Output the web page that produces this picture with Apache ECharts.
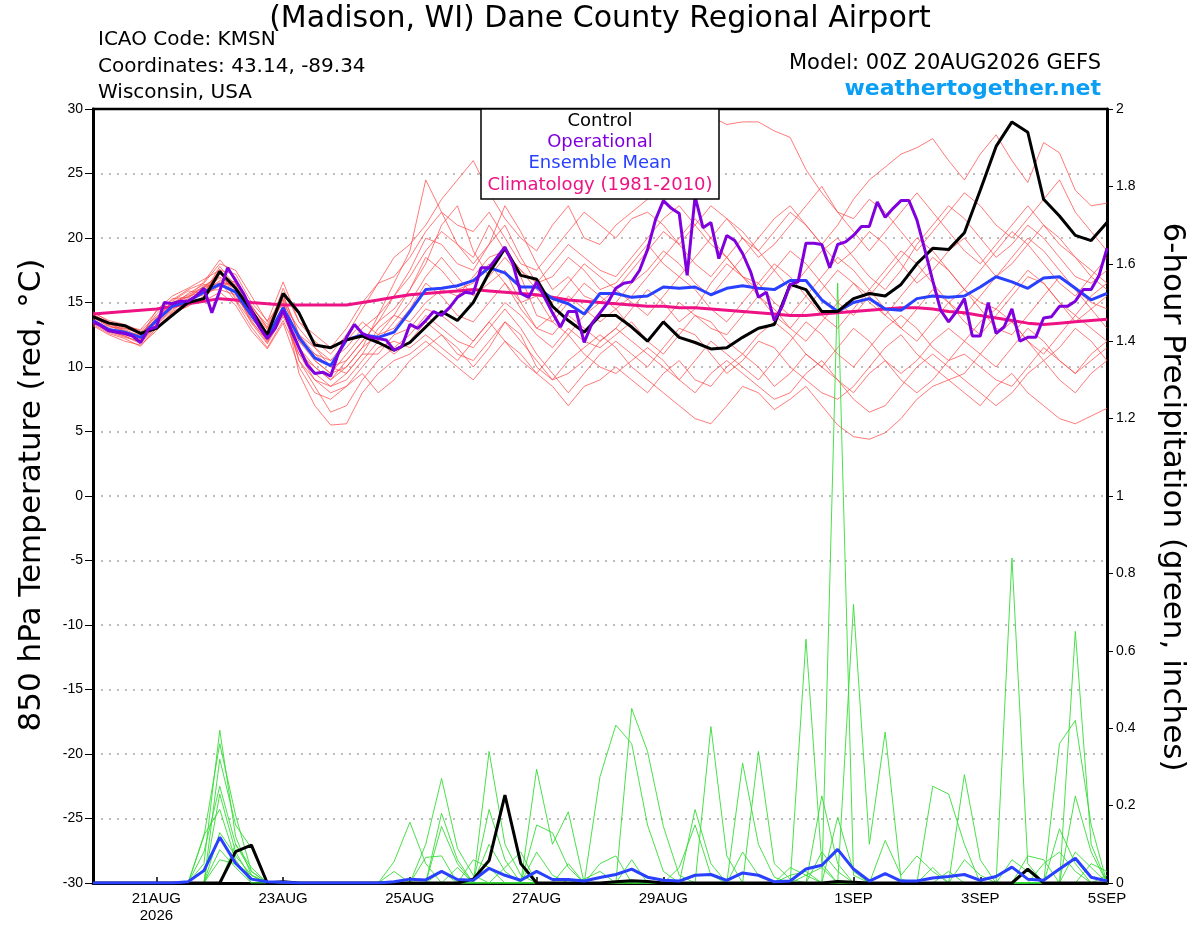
<!DOCTYPE html>
<html><head><meta charset="utf-8">
<script src="https://cdn.jsdelivr.net/npm/echarts@6/dist/echarts.min.js"></script>
<style>html,body{margin:0;padding:0;background:#fff}#c{width:1200px;height:927px}</style>
</head><body><div id="c"></div><script>
// ---------- axis ticks (hours since 00Z 20AUG2026) ----------
const tickHours = [24, 72, 120, 168, 216, 288, 336, 384];
const tickLabels = ['21AUG\n2026', '23AUG', '25AUG', '27AUG', '29AUG', '1SEP', '3SEP', '5SEP'];

// ---------- 850 hPa temperature, 6-hourly from 00Z 20AUG ----------
const controlTemp = [13.9,13.4,13.2,12.6,13.0,14.0,15.0,15.3,17.4,16.1,
  14.4,12.5,15.7,14.2,11.7,11.5,12.1,12.4,11.9,11.3,
  11.9,13.1,14.3,13.6,15.0,17.3,19.2,17.1,16.8,14.7,
  13.6,12.7,14.0,14.0,13.1,12.0,13.5,12.3,11.9,11.4,
  11.5,12.3,13.0,13.3,16.4,16.0,14.3,14.3,15.3,15.7,
  15.5,16.4,18.0,19.2,19.1,20.4,23.7,27.1,29.0,28.2,
  23.0,21.7,20.2,19.8,21.2];
const meanTemp = [13.6,12.9,12.7,12.3,13.6,14.7,15.1,15.8,16.4,15.8,
  14.0,12.3,14.6,12.3,10.7,10.1,12.1,12.5,12.3,12.7,
  14.3,16.0,16.1,16.3,16.7,17.7,17.3,16.2,16.2,15.3,
  14.9,14.1,15.7,15.7,15.4,15.5,16.2,16.1,16.2,15.6,
  16.1,16.3,16.1,16.0,16.7,16.7,15.2,14.3,15.0,15.3,
  14.5,14.4,15.3,15.5,15.4,15.5,16.2,17.0,16.6,16.1,
  16.9,17.0,16.1,15.2,15.7];
const climTemp = [14.1,14.2,14.3,14.4,14.5,14.7,14.9,15.1,15.3,15.2,
  15.0,14.9,14.8,14.8,14.8,14.8,14.8,15.0,15.2,15.4,
  15.6,15.7,15.8,15.9,16.0,15.9,15.8,15.7,15.6,15.4,
  15.2,15.1,15.0,14.9,14.8,14.7,14.7,14.6,14.6,14.5,
  14.4,14.3,14.2,14.1,14.0,14.0,14.1,14.2,14.3,14.4,
  14.5,14.6,14.6,14.5,14.3,14.2,14.0,13.8,13.6,13.4,
  13.3,13.4,13.5,13.6,13.7];
// operational run, 3-hourly
const opTemp = [13.5,13.2,12.8,12.7,12.6,12.4,11.9,12.9,13.1,15.0,
  14.9,15.1,15.1,15.5,16.1,14.2,15.9,17.7,16.7,15.7,
  14.4,13.1,12.2,13.0,14.4,12.9,11.5,10.2,9.5,9.6,
  9.3,11.1,12.3,13.3,12.6,12.3,12.2,12.1,11.3,11.6,
  13.3,13.0,13.6,14.3,14.0,14.6,15.4,15.8,15.7,17.7,
  17.7,18.5,19.3,18.0,15.7,15.4,16.6,15.4,14.2,13.1,
  14.3,14.3,11.9,13.4,14.2,15.0,16.1,16.5,16.6,17.5,
  19.1,21.4,22.9,22.3,21.9,17.1,23.2,20.8,21.2,18.4,
  20.2,19.8,18.8,17.4,15.4,15.8,13.6,14.7,16.4,16.6,
  19.6,19.6,19.5,17.7,19.5,19.7,20.2,20.9,20.9,22.8,
  21.6,22.3,22.9,22.9,21.4,19.1,16.7,14.4,13.5,14.3,
  15.3,12.4,12.4,15.0,12.6,13.1,14.5,12.0,12.3,12.3,
  13.8,13.9,14.7,14.7,15.1,16.0,16.0,17.1,19.2];

// ensemble members (temperature)
const mem01 = [14.2,13.6,13.3,12.8,13.9,15.0,15.6,16.2,17.2,16.5,14.8,13.0,15.2, 9.5,7.0,5.5,5.6,8.0,9.5,10.5,11.0,12.0,11.0,10.0,9.0,10.5,12.0,11.0,9.5,8.5,7.0,8.5,9.0, 10.0,9.0,8.0,9.5,10.5,9.0,8.5,10.0,11.0,10.0,8.5,9.5,11.0,10.0,9.0,8.0,9.5,10.5,9.0,8.0,9.0,10.5,11.0,10.0,9.0,8.5,10.0,11.5,10.5,9.5,11.0,12.0];
const mem02 = [13.5,12.8,12.4,11.9,13.2,14.4,15.2,15.9,16.0,15.6,13.6,11.9,14.1, 12.0,10.5,9.5,11.0,12.5,12.0,13.5,15.0,17.0,18.5,17.0,15.5,16.5,17.5,15.0,13.0,12.5,14.0,13.0,12.0, 13.0,14.5,16.0,15.0,13.5,14.5,16.5,18.0,17.0,15.5,14.0,13.0,14.5,16.0,17.5,16.5,15.0,14.0,15.5,17.0,18.5,17.5,16.0,15.0,14.5,16.0,17.5,16.5,15.0,13.5,14.5,15.5];
const mem03 = [14.0,13.3,12.9,12.4,14.1,15.3,15.4,16.6,18.3,16.9,14.3,12.7,16.1, 13.5,12.0,11.0,12.5,14.5,16.5,18.5,19.5,21.0,23.0,24.5,26.0,23.5,21.5,20.0,19.0,21.0,22.5,20.0,19.5, 21.0,22.0,23.0,24.5,26.5,28.5,29.4,28.8,29.0,29.0,28.3,27.8,25.3,23.5,22.0,21.5,23.0,22.0,20.5,19.0,20.5,22.0,23.5,22.5,21.0,20.0,21.5,23.0,24.5,22.0,20.5,19.0];
const mem04 = [13.3,12.6,12.2,11.6,13.0,14.0,14.8,15.4,16.6,15.1,13.1,11.5,13.6, 11.0,9.0,8.0,8.5,9.5,8.0,9.0,10.5,11.5,12.5,11.0,10.5,12.0,13.5,12.5,10.0,9.0,10.5,11.5,12.5, 11.5,10.0,9.0,8.0,7.0,6.0,5.6,7.0,8.5,8.0,6.7,7.5,8.5,7.0,5.5,4.6,4.4,4.9,6.0,7.5,8.5,9.0,8.0,7.0,8.5,9.5,8.0,7.0,6.0,5.6,6.2,6.8];
const mem05 = [13.9,13.1,13.0,12.6,13.7,15.1,15.9,15.7,17.8,16.3,14.6,13.3,15.6, 12.5,11.5,10.0,9.5,11.0,13.0,14.0,13.5,15.0,16.0,15.5,17.0,18.5,19.0,17.5,16.0,15.0,16.5,18.0,17.0, 16.0,15.0,14.0,15.5,17.0,16.0,14.5,13.5,15.0,16.5,18.0,17.0,15.5,14.0,13.0,14.5,16.0,17.5,19.0,18.0,16.5,15.0,14.0,15.5,17.0,18.5,20.0,19.0,17.5,16.0,15.0,14.5];
const mem06 = [13.6,12.9,12.6,12.1,13.4,14.6,15.0,16.0,16.9,15.4,13.9,12.0,14.4, 10.5,8.5,6.5,7.0,9.0,10.5,11.5,12.5,14.0,13.0,12.0,11.5,13.0,14.5,13.0,11.0,9.5,8.0,9.5,11.0, 12.0,11.0,10.0,11.5,13.0,12.5,11.0,9.5,10.5,12.0,11.5,10.0,9.0,8.0,7.5,8.5,10.0,11.5,12.5,11.0,10.0,9.0,9.5,11.0,12.5,13.5,12.0,10.5,11.5,13.0,12.0,10.5];
const mem07 = [14.1,13.4,12.8,12.3,14.4,15.5,16.1,16.8,17.5,17.2,15.0,13.6,14.9, 13.0,11.5,10.5,11.5,13.0,14.0,15.5,17.0,19.0,20.5,19.5,18.0,19.5,21.0,18.5,16.5,17.0,18.5,17.5,16.0, 16.5,18.0,19.5,18.0,17.0,18.5,20.0,21.5,20.5,19.0,20.5,22.0,21.0,19.5,21.0,23.0,24.5,25.5,26.5,27.0,27.7,26.0,24.5,26.5,28.0,26.0,24.3,27.4,26.6,23.7,22.5,22.7];
const mem08 = [13.4,12.7,12.3,12.0,13.1,14.2,14.7,15.5,16.3,15.9,13.4,11.8,13.9, 11.5,10.0,9.0,10.0,11.5,12.5,13.0,14.5,16.5,15.5,14.0,13.5,15.0,16.5,14.5,13.0,14.0,15.5,14.5,13.5, 14.5,13.0,12.0,13.5,15.0,14.0,13.0,12.5,14.0,15.5,14.5,13.0,12.0,13.5,15.0,16.5,15.5,14.0,13.0,12.0,13.5,15.0,16.0,14.5,13.0,12.5,14.0,15.5,17.0,16.0,14.5,13.0];
const mem09 = [13.8,13.2,12.7,12.5,13.8,14.8,15.3,16.3,17.0,16.0,14.2,12.4,15.3, 12.0,11.0,10.5,12.0,13.5,12.5,14.0,16.0,18.5,17.5,16.0,16.5,18.0,16.5,15.0,15.5,13.5,12.5,14.0,15.0, 15.0,16.5,17.5,19.0,18.0,16.5,15.5,17.0,18.5,20.0,21.5,22.5,21.0,19.5,18.0,19.0,20.5,19.5,18.0,16.5,17.5,19.0,20.0,18.5,17.0,18.0,19.5,21.0,20.0,18.5,17.0,16.0];
const mem10 = [13.2,12.5,12.0,11.7,12.8,14.3,14.9,15.1,15.8,14.8,12.8,11.4,13.4, 10.0,8.0,7.5,8.5,10.0,11.5,12.0,11.5,12.5,11.5,10.5,12.0,13.5,12.0,10.5,9.5,11.0,12.5,11.0,10.0, 9.5,10.5,11.5,10.5,9.0,8.0,9.5,10.5,9.5,8.5,7.5,8.0,9.5,10.5,9.0,7.5,6.5,7.0,8.5,10.0,11.0,10.0,9.0,8.0,7.0,8.0,9.5,10.5,9.0,8.0,9.5,10.5];
const mem11 = [14.3,13.5,13.1,12.9,14.3,15.2,16.0,16.5,18.0,17.5,15.5,13.5,16.6, 13.5,12.5,11.5,13.0,15.0,16.5,17.0,18.5,20.5,22.0,21.0,20.5,22.0,20.0,18.0,17.5,19.0,20.5,22.0,21.0, 20.0,21.5,22.0,21.0,19.5,21.0,22.5,21.5,20.0,18.5,19.5,21.0,22.5,24.0,22.0,20.5,19.0,20.5,22.0,23.5,22.0,20.5,19.0,18.0,19.5,21.0,22.5,21.0,19.5,18.5,17.5,16.5];
const mem12 = [13.7,13.0,12.5,12.2,13.5,14.9,15.5,15.8,16.7,16.2,14.0,12.2,14.7, 11.5,9.5,8.5,9.5,11.0,11.0,12.5,13.0,14.5,14.0,13.0,12.0,13.5,15.0,14.0,12.5,11.5,13.0,12.0,11.5, 12.5,13.5,12.0,11.0,12.5,14.0,13.5,12.0,11.0,12.5,13.5,12.5,11.0,10.0,11.5,13.0,12.0,10.5,9.5,10.5,12.0,13.0,12.0,11.0,10.0,11.5,13.0,12.0,10.5,9.5,10.5,11.5];
const mem13 = [13.5,12.9,12.6,12.0,13.3,14.5,15.1,16.1,17.3,15.7,13.7,12.6,14.0, 12.5,11.0,10.0,10.5,12.0,13.5,15.5,17.5,20.0,19.5,18.0,17.5,19.5,22.5,20.5,18.0,16.0,17.0,15.5,15.0, 16.0,17.5,19.0,20.5,19.5,18.0,17.0,18.5,20.0,19.0,17.5,16.0,17.5,19.0,20.0,18.5,17.0,16.0,17.5,19.5,21.0,22.5,21.5,20.0,18.5,19.5,21.0,20.0,18.5,17.0,16.5,17.5];
const mem14 = [14.0,13.4,13.0,12.7,13.6,14.7,15.7,16.4,16.2,16.7,14.5,12.9,15.0, 10.5,9.0,8.5,9.0,10.5,12.0,11.0,12.0,13.5,12.5,11.5,10.0,11.5,13.5,12.0,10.5,9.0,9.5,10.5,12.0, 13.0,12.0,11.0,10.0,9.0,10.5,12.0,11.0,10.0,9.0,10.5,12.0,13.5,12.5,11.0,10.0,11.5,13.0,14.0,13.0,11.5,10.5,12.0,13.5,14.5,13.5,12.0,11.0,12.5,14.0,13.0,12.0];
const mem15 = [13.6,12.8,12.4,11.8,13.0,14.1,15.2,15.6,17.6,15.2,13.5,12.1,14.2, 11.0,10.0,9.0,10.5,12.0,13.5,14.5,16.0,18.0,21.0,22.5,19.0,17.0,18.5,17.0,14.0,13.5,15.0,16.5,15.5, 14.5,15.5,17.0,18.5,20.0,21.5,20.0,18.5,17.0,16.0,17.5,19.0,18.0,16.5,15.0,14.0,15.5,17.0,18.5,20.0,19.0,17.5,16.0,17.5,19.0,20.5,19.5,18.0,16.5,15.5,17.0,18.5];
const mem16 = [13.9,13.2,12.8,12.2,13.8,15.0,15.4,16.2,16.5,16.4,14.7,13.1,15.5, 12.5,10.5,9.5,10.0,11.5,14.0,16.5,19.0,24.5,22.0,19.5,18.5,21.0,19.0,17.5,16.5,18.0,19.5,18.5,17.5, 17.0,18.5,20.0,21.5,22.5,21.0,19.5,18.5,17.0,16.5,15.0,14.0,15.5,17.0,18.5,17.5,16.0,14.5,13.0,14.5,16.0,15.0,13.5,12.5,14.0,15.5,17.0,16.5,15.0,14.0,15.5,16.5];

// ---------- 6-hour precipitation (inches) ----------
const controlPrecip = [0,0,0,0,0,0,0,0,0,.081, .098,0,.003,0,0,0,0,0,0,0, 0,0,0,0,.01,.058,.227,.05,0,0, 0,0,0,.003,.006,.004,0,0,0,0, 0,0,0,0,0,0,0,.004,.002,0, 0,0,0,0,0,0,0,0,0,.036, 0,0,0,0,0];
const meanPrecip = [0,0,0,0,0,0,.003,.032,.118,.051, .01,.003,.002,0,0,0,0,0,0,.003, .01,.008,.03,.009,.007,.038,.02,.007,.03,.009, .009,.005,.014,.022,.036,.015,.007,.005,.02,.022, .007,.026,.02,.003,.005,.036,.046,.087,.036,.005, .024,.005,.005,.013,.017,.022,.007,.017,.041,.01, .007,.036,.064,.015,.005];
const pcp01 = [0,0,0,0,0,0,0,.05,.395,.12, .02,0,0,0,0,0,0,0,0,0, 0,.10,.27,.09,.02,0,0,0,0,0, 0,0,.275,.408,.36,.15,.03,0,0,0, 0,0,0,0,0,.63,.05,0,0,0, 0,0,0,0,0,.28,.06,0,0,0, 0,0,0,0,0];
const pcp02 = [0,0,0,0,0,0,0,.12,.36,.175, .03,0,0,0,0,0,0,0,0,0, 0,0,0,0,0,.34,.10,.02,0,0, 0,0,0,0,.451,.34,.146,.02,0,0, 0,0,0,0,0,0,0,1.55,.02,0, 0,0,0,0,0,0,0,0,0,0, 0,0,.65,.10,0];
const pcp03 = [0,0,0,0,0,0,0,0,.32,.15, .09,0,0,0,0,0,0,0,0,.055, .157,.05,0,0,0,0,0,0,.294,.10, .184,0,0,0,0,0,0,0,0,.404, .07,0,0,0,0,0,0,0,.72,.10, .39,.01,0,0,0,0,0,0,.84,.05, 0,0,0,0,0];
const pcp04 = [0,0,0,0,0,0,0,.08,.25,.10, .04,0,0,0,0,0,0,0,0,0, 0,0,.18,.06,0,.19,.06,0,0,0, 0,0,0,0,0,0,0,0,0,0, 0,.31,.10,.015,0,0,0,0,0,0, 0,0,0,.25,.23,.10,0,0,0,0, 0,.36,.42,.15,0];
const pcp05 = [0,0,0,0,0,0,0,0,.23,.08, .01,0,0,0,0,0,0,0,0,0, 0,0,.146,.05,0,0,0,0,.15,.13, .04,0,0,0,0,0,0,0,.19,.05, 0,0,.34,.05,.01,0,.225,.05,0,0, 0,0,0,0,0,0,0,0,0,0, 0,0,.225,.08,0];
const pcp06 = [0,0,0,0,0,0,0,.124,.19,.06, 0,0,0,0,0,0,0,0,0,.03, 0,0,0,0,0,0,.04,.08,0,0, 0,0,.05,.07,0,0,0,0,0,0, 0,0,0,0,.02,.03,0,.17,.03,0, 0,0,0,0,0,0,0,0,0,0, 0,.14,.05,0,.02];
const pcp07 = [0,0,0,0,0,0,0,0,.13,.07, .02,0,0,0,0,0,0,0,0,0, 0,.066,.07,0,0,.10,.03,0,0,0, .05,0,0,0,0,0,0,.04,.15,.02, 0,0,0,0,0,0,0,0,0,0, .11,.02,.07,.03,0,0,0,0,0,.07, .06,0,0,0,0];
const pcp08 = [0,0,0,0,0,0,0,0,.086,.04, 0,0,0,0,0,0,0,0,0,0, 0,0,0,0,.06,.04,0,0,.08,.02, 0,0,0,0,0,0,0,0,0,0, 0,.08,.02,0,0,0,.08,.03,0,0, 0,0,0,0,0,.06,.02,0,0,0, 0,0,0,.05,.03];
const pcp09 = [0,0,0,0,0,0,0,0,.06,.05, .02,0,0,0,0,0,0,0,0,0, 0,0,.03,0,0,0,0,0,0,0, 0,.01,.03,0,0,0,0,0,0,0, 0,0,0,0,0,.02,.04,0,0,0, 0,0,0,.04,0,0,0,0,.06,.03, 0,0,.08,.04,0];
const pcp10 = [0,0,0,0,0,0,0,0,0,.10, .03,0,0,0,0,0,0,0,0,0, 0,0,0,.04,0,0,0,0,0,0, 0,0,0,0,.06,0,0,0,0,0, 0,0,0,0,.04,.02,0,0,0,0, 0,0,0,0,.03,0,0,0,0,0, .05,.08,.03,0,0];

const tempMembers = [mem01,mem02,mem03,mem04,mem05,mem06,mem07,mem08,mem09,mem10,mem11,mem12,mem13,mem14,mem15,mem16];
const precipMembers = [pcp01,pcp02,pcp03,pcp04,pcp05,pcp06,pcp07,pcp08,pcp09,pcp10];

// ---------- build ----------
const SANS = 'DejaVu Sans';
const LAB = 'Liberation Sans';
const at6 = arr => arr.map((v, i) => [i * 6, v]);
const at3 = arr => arr.map((v, i) => [i * 3, v]);
const lineSeries = (data, yIdx, color, width, z) => ({
  type: 'line', yAxisIndex: yIdx, data: data, symbol: 'none', silent: true,
  lineStyle: { color: color, width: width }, z: z, animation: false
});

const series = [];
tempMembers.forEach(m => series.push(lineSeries(at6(m), 0, 'rgba(255,70,70,0.8)', 0.9, 2)));
precipMembers.forEach(m => series.push(lineSeries(at6(m), 1, '#35dc35', 0.9, 3)));
series.push(lineSeries(at6(controlPrecip), 1, '#000000', 3, 5));
series.push(lineSeries(at6(meanPrecip), 1, '#2a40ff', 3, 5));
series.push(lineSeries(at6(climTemp), 0, '#ee1385', 3, 6));
series.push(lineSeries(at6(meanTemp), 0, '#2a40ff', 3, 7));
series.push(lineSeries(at6(controlTemp), 0, '#000000', 3, 8));
series.push(lineSeries(at3(opTemp), 0, '#7f00dd', 3, 9));

const labelFor = v => { const k = tickHours.indexOf(Math.round(v)); return k >= 0 ? tickLabels[k] : ''; };

const txt = (x, y, text, size, color, align, extra) => Object.assign({
  type: 'text', x: x, y: y, z: 100,
  style: Object.assign({ text: text, fill: color, fontSize: size, fontFamily: SANS, align: align, verticalAlign: 'middle' }, extra || {})
});

const chart = echarts.init(document.getElementById('c'), null, { renderer: 'canvas' });
chart.setOption({
  animation: false,
  backgroundColor: '#ffffff',
  grid: { left: 93, right: 93, top: 109, bottom: 44, show: false, outerBoundsMode: 'none', containLabel: false },
  xAxis: {
    type: 'value', min: 0, max: 384,
    axisLine: { show: true, onZero: false, lineStyle: { color: '#000', width: 3 } },
    axisTick: { show: true, inside: true, length: 6, lineStyle: { color: '#000', width: 1.5 }, customValues: tickHours },
    axisLabel: { customValues: tickHours, formatter: labelFor, color: '#000', fontSize: 15, fontFamily: LAB, margin: 7, lineHeight: 17, showMaxLabel: true, showMinLabel: true },
    splitLine: { show: false }
  },
  yAxis: [
    { type: 'value', min: -30, max: 30, interval: 5, position: 'left',
      axisLine: { show: true, lineStyle: { color: '#000', width: 3 } },
      axisTick: { show: true, length: 8, lineStyle: { color: '#000', width: 1 } },
      axisLabel: { color: '#000', fontSize: 14, fontFamily: LAB, margin: 10 },
      splitLine: { show: true, lineStyle: { color: '#a8a8a8', width: 1.5, type: [2, 6] } } },
    { type: 'value', min: 0, max: 2, interval: 0.2, position: 'right',
      axisLine: { show: true, lineStyle: { color: '#000', width: 3 } },
      axisTick: { show: true, length: 6, lineStyle: { color: '#000', width: 1 } },
      axisLabel: { color: '#000', fontSize: 14, fontFamily: LAB, margin: 9, formatter: v => String(Math.round(v * 10) / 10) },
      splitLine: { show: false } }
  ],
  graphic: [
    txt(600, 19, '(Madison, WI) Dane County Regional Airport', 30, '#000', 'center'),
    txt(98, 40, 'ICAO Code: KMSN', 20, '#000', 'left'),
    txt(98, 67, 'Coordinates: 43.14, -89.34', 20, '#000', 'left'),
    txt(98, 93, 'Wisconsin, USA', 20, '#000', 'left'),
    txt(1101, 64, 'Model: 00Z 20AUG2026 GEFS', 21, '#000', 'right'),
    txt(1101, 89, 'weathertogether.net', 22, '#0a9ef5', 'right', { fontWeight: 'bold' }),
    { type: 'line', z: 98, shape: { x1: 92, y1: 109, x2: 1108, y2: 109 }, style: { stroke: '#000', lineWidth: 2.5 } },
    { type: 'rect', z: 99, shape: { x: 481, y: 109, width: 238, height: 90 }, style: { fill: '#fff', stroke: '#000', lineWidth: 1.5 } },
    txt(600, 121, 'Control', 18, '#000', 'center'),
    txt(600, 142, 'Operational', 18, '#7f00dd', 'center'),
    txt(600, 163, 'Ensemble Mean', 18, '#2a40ff', 'center'),
    txt(600, 185, 'Climatology (1981-2010)', 18, '#ee1385', 'center'),
    Object.assign(txt(32, 495, '850 hPa Temperature (red, \u00B0C)', 31, '#000', 'center'), { rotation: Math.PI / 2 }),
    Object.assign(txt(1172, 497, '6-hour Precipitation (green, inches)', 31, '#000', 'center'), { rotation: -Math.PI / 2 })
  ],
  series: series
});
</script></body></html>
